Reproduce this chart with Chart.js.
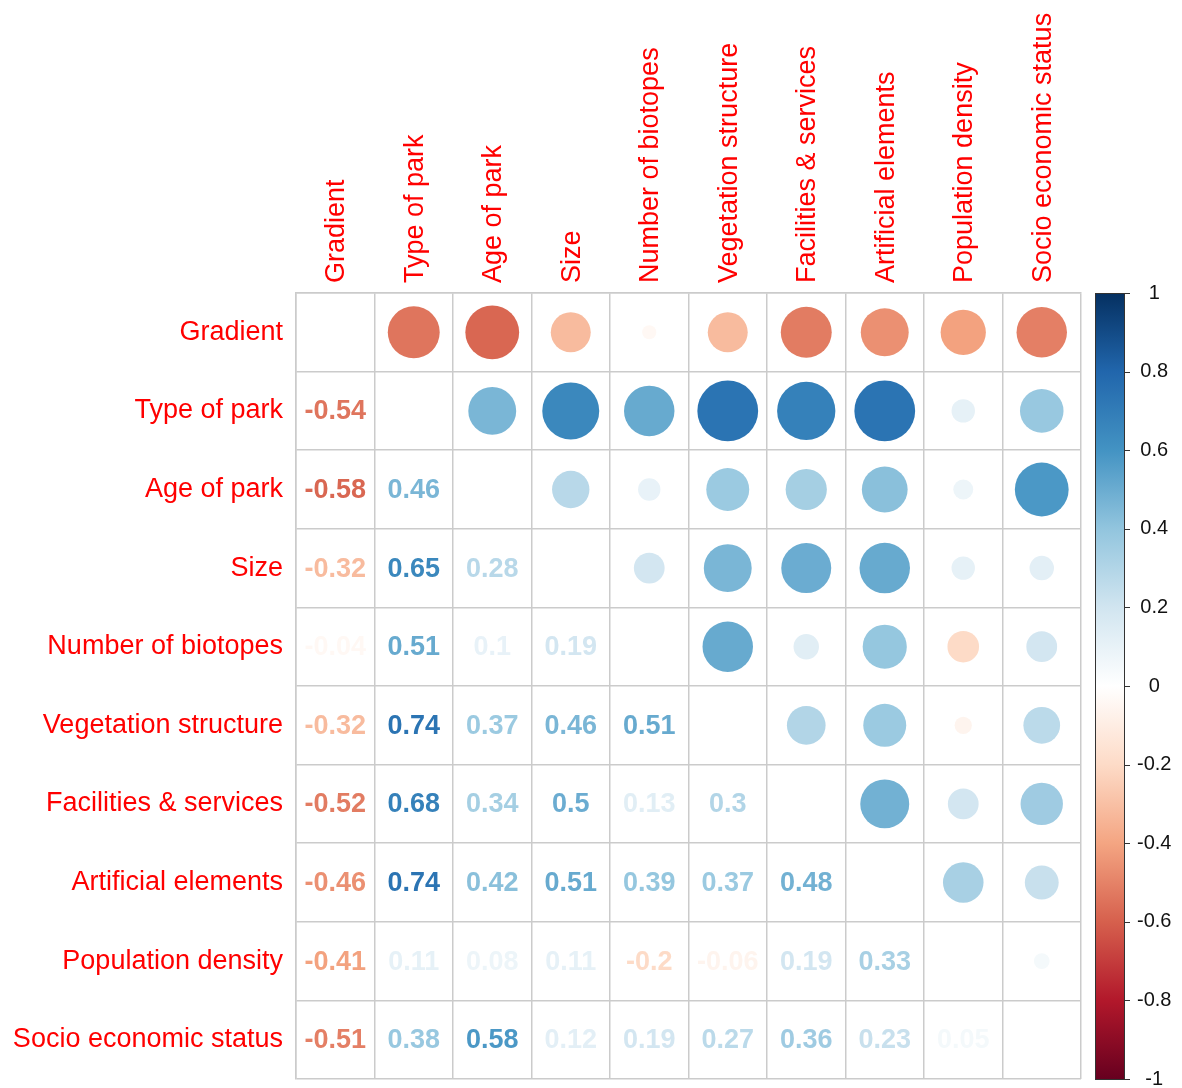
<!DOCTYPE html>
<html>
<head>
<meta charset="utf-8">
<script src="https://cdn.jsdelivr.net/npm/chart.js@4.4.0/dist/chart.umd.min.js"></script>
<style>
    body { margin: 0; background: #fff; }
</style>
</head>
<body>
<canvas id="corr" width="1182" height="1088"></canvas>
<script>
/*============================
  CORRELATION MATRIX
=============================*/

let variables = [
    'Gradient', 'Type of park', 'Age of park', 'Size', 'Number of biotopes',
    'Vegetation structure', 'Facilities & services', 'Artificial elements',
    'Population density', 'Socio economic status'
];

// lower triangle, one row per variable (vs. the variables before it)
let typeOfPark = [-0.54];
let ageOfPark = [-0.58, 0.46];
let parkSize = [-0.32, 0.65, 0.28];
let biotopes = [-0.04, 0.51, 0.1, 0.19];
let vegetation = [-0.32, 0.74, 0.37, 0.46, 0.51];
let facilities = [-0.52, 0.68, 0.34, 0.5, 0.13, 0.3];
let artificial = [-0.46, 0.74, 0.42, 0.51, 0.39, 0.37, 0.48];
let population = [-0.41, 0.11, 0.08, 0.11, -0.2, -0.06, 0.19, 0.33];
let socio = [-0.51, 0.38, 0.58, 0.12, 0.19, 0.27, 0.36, 0.23, 0.05];

let legendTicks = [-1, -0.8, -0.6, -0.4, -0.2, 0, 0.2, 0.4, 0.6, 0.8, 1];

let palette = ['#67001F', '#B2182B', '#D6604D', '#F4A582', '#FDDBC7', '#FFFFFF',
               '#D1E5F0', '#92C5DE', '#4393C3', '#2166AC', '#053061'];


let lowerRows = [[], typeOfPark, ageOfPark, parkSize, biotopes, vegetation,
                 facilities, artificial, population, socio];

function hexToRgb(h) {
    return [parseInt(h.slice(1, 3), 16), parseInt(h.slice(3, 5), 16), parseInt(h.slice(5, 7), 16)];
}

function corrColor(v) {
    let pos = (v + 1) / 2 * (palette.length - 1);
    let i = Math.min(Math.floor(pos), palette.length - 2);
    let t = pos - i;
    let a = hexToRgb(palette[i]), b = hexToRgb(palette[i + 1]);
    let c = a.map((x, k) => Math.round(x + (b[k] - x) * t));
    return 'rgb(' + c.join(',') + ')';
}

// circles go in the upper triangle (mirror of the lower one)
let circles = [];
lowerRows.forEach((row, r) => {
    row.forEach((v, c) => {
        circles.push({ x: variables[r], y: variables[c], v: v });
    });
});

let font = '"Liberation Sans", Arial, sans-serif';
let gridGrey = '#CBCBCB';

function cellSize(chart) {
    let s = chart.scales.x;
    return (s && s.width ? s.width : 785) / variables.length;
}

// keep the axes from pushing the plot area around
function noPadding(s) {
    s.paddingTop = 0;
    s.paddingBottom = 0;
    s.paddingLeft = 0;
    s.paddingRight = 0;
}

let corrPlugin = {
    id: 'corrPlugin',
    afterDraw(chart) {
        let ctx = chart.ctx;
        let x = chart.scales.x, y = chart.scales.y, bar = chart.scales.cbar;
        ctx.save();

        // numbers in the lower triangle
        ctx.font = 'bold 27px ' + font;
        ctx.textAlign = 'center';
        ctx.textBaseline = 'middle';
        lowerRows.forEach((row, r) => {
            row.forEach((v, c) => {
                ctx.fillStyle = corrColor(v);
                ctx.fillText(String(v), x.getPixelForValue(c), y.getPixelForValue(r) + 1);
            });
        });

        // colour legend
        let left = chart.chartArea.right + 14, w = 29;
        let top = bar.getPixelForValue(1), bottom = bar.getPixelForValue(-1);
        let grad = ctx.createLinearGradient(0, bottom, 0, top);
        palette.forEach((col, i) => grad.addColorStop(i / (palette.length - 1), col));
        ctx.fillStyle = grad;
        ctx.fillRect(left, top, w, bottom - top);
        ctx.strokeStyle = '#333';
        ctx.lineWidth = 1;
        ctx.strokeRect(left + 0.5, top + 0.5, w, bottom - top);
        ctx.beginPath();
        legendTicks.forEach(t => {
            let py = Math.round(bar.getPixelForValue(t)) + 0.5;
            ctx.moveTo(left + w, py);
            ctx.lineTo(left + w + 6, py);
        });
        ctx.stroke();
        ctx.restore();
    }
};


let corrChart = new Chart(document.getElementById('corr').getContext('2d'), {
    type: 'scatter',
    data: {
        datasets: [{
            data: circles,
            clip: false,
            borderWidth: 0,
            pointHoverRadius: ctx => Math.sqrt(Math.abs(ctx.raw.v)) * 0.45 * cellSize(ctx.chart),
            pointRadius: ctx => Math.sqrt(Math.abs(ctx.raw.v)) * 0.45 * cellSize(ctx.chart),
            backgroundColor: ctx => corrColor(ctx.raw.v),
            borderColor: 'rgba(0,0,0,0)'
        }]
    },
    plugins: [corrPlugin],
    options: {
        responsive: false,
        animation: false,
        events: [],
        layout: { autoPadding: false, padding: { left: 0, top: 0, right: 0, bottom: 9 } },
        plugins: {
            legend: { display: false },
            tooltip: { enabled: false }
        },
        scales: {
            x: {
                type: 'category',
                labels: variables,
                position: 'top',
                offset: true,
                grid: { offset: true, color: gridGrey, lineWidth: 1.5, drawTicks: false },
                border: { color: gridGrey, width: 1.5 },
                ticks: {
                    autoSkip: false,
                    minRotation: 90,
                    maxRotation: 90,
                    padding: 10,
                    labelOffset: 34,
                    color: '#FF0000',
                    font: { family: font, size: 27 }
                },
                afterFit: s => { s.height = 293; noPadding(s); }
            },
            y: {
                type: 'category',
                labels: variables,
                position: 'left',
                offset: true,
                grid: { offset: true, color: gridGrey, lineWidth: 1.5, drawTicks: false },
                border: { color: gridGrey, width: 1.5 },
                ticks: {
                    autoSkip: false,
                    padding: 13,
                    color: '#FF0000',
                    font: { family: font, size: 27 }
                },
                afterFit: s => { s.width = 296; noPadding(s); }
            },
            cbar: {
                type: 'linear',
                position: 'right',
                min: -1,
                max: 1,
                grid: { display: false, drawTicks: false },
                border: { display: false },
                afterBuildTicks: s => { s.ticks = legendTicks.map(v => ({ value: v })); },
                ticks: {
                    padding: 56,
                    crossAlign: 'center',
                    color: '#111',
                    font: { family: font, size: 20 },
                    callback: v => String(+v.toFixed(1))
                },
                afterFit: s => { s.width = 101; noPadding(s); }
            }
        }
    }
});
</script>
</body>
</html>
